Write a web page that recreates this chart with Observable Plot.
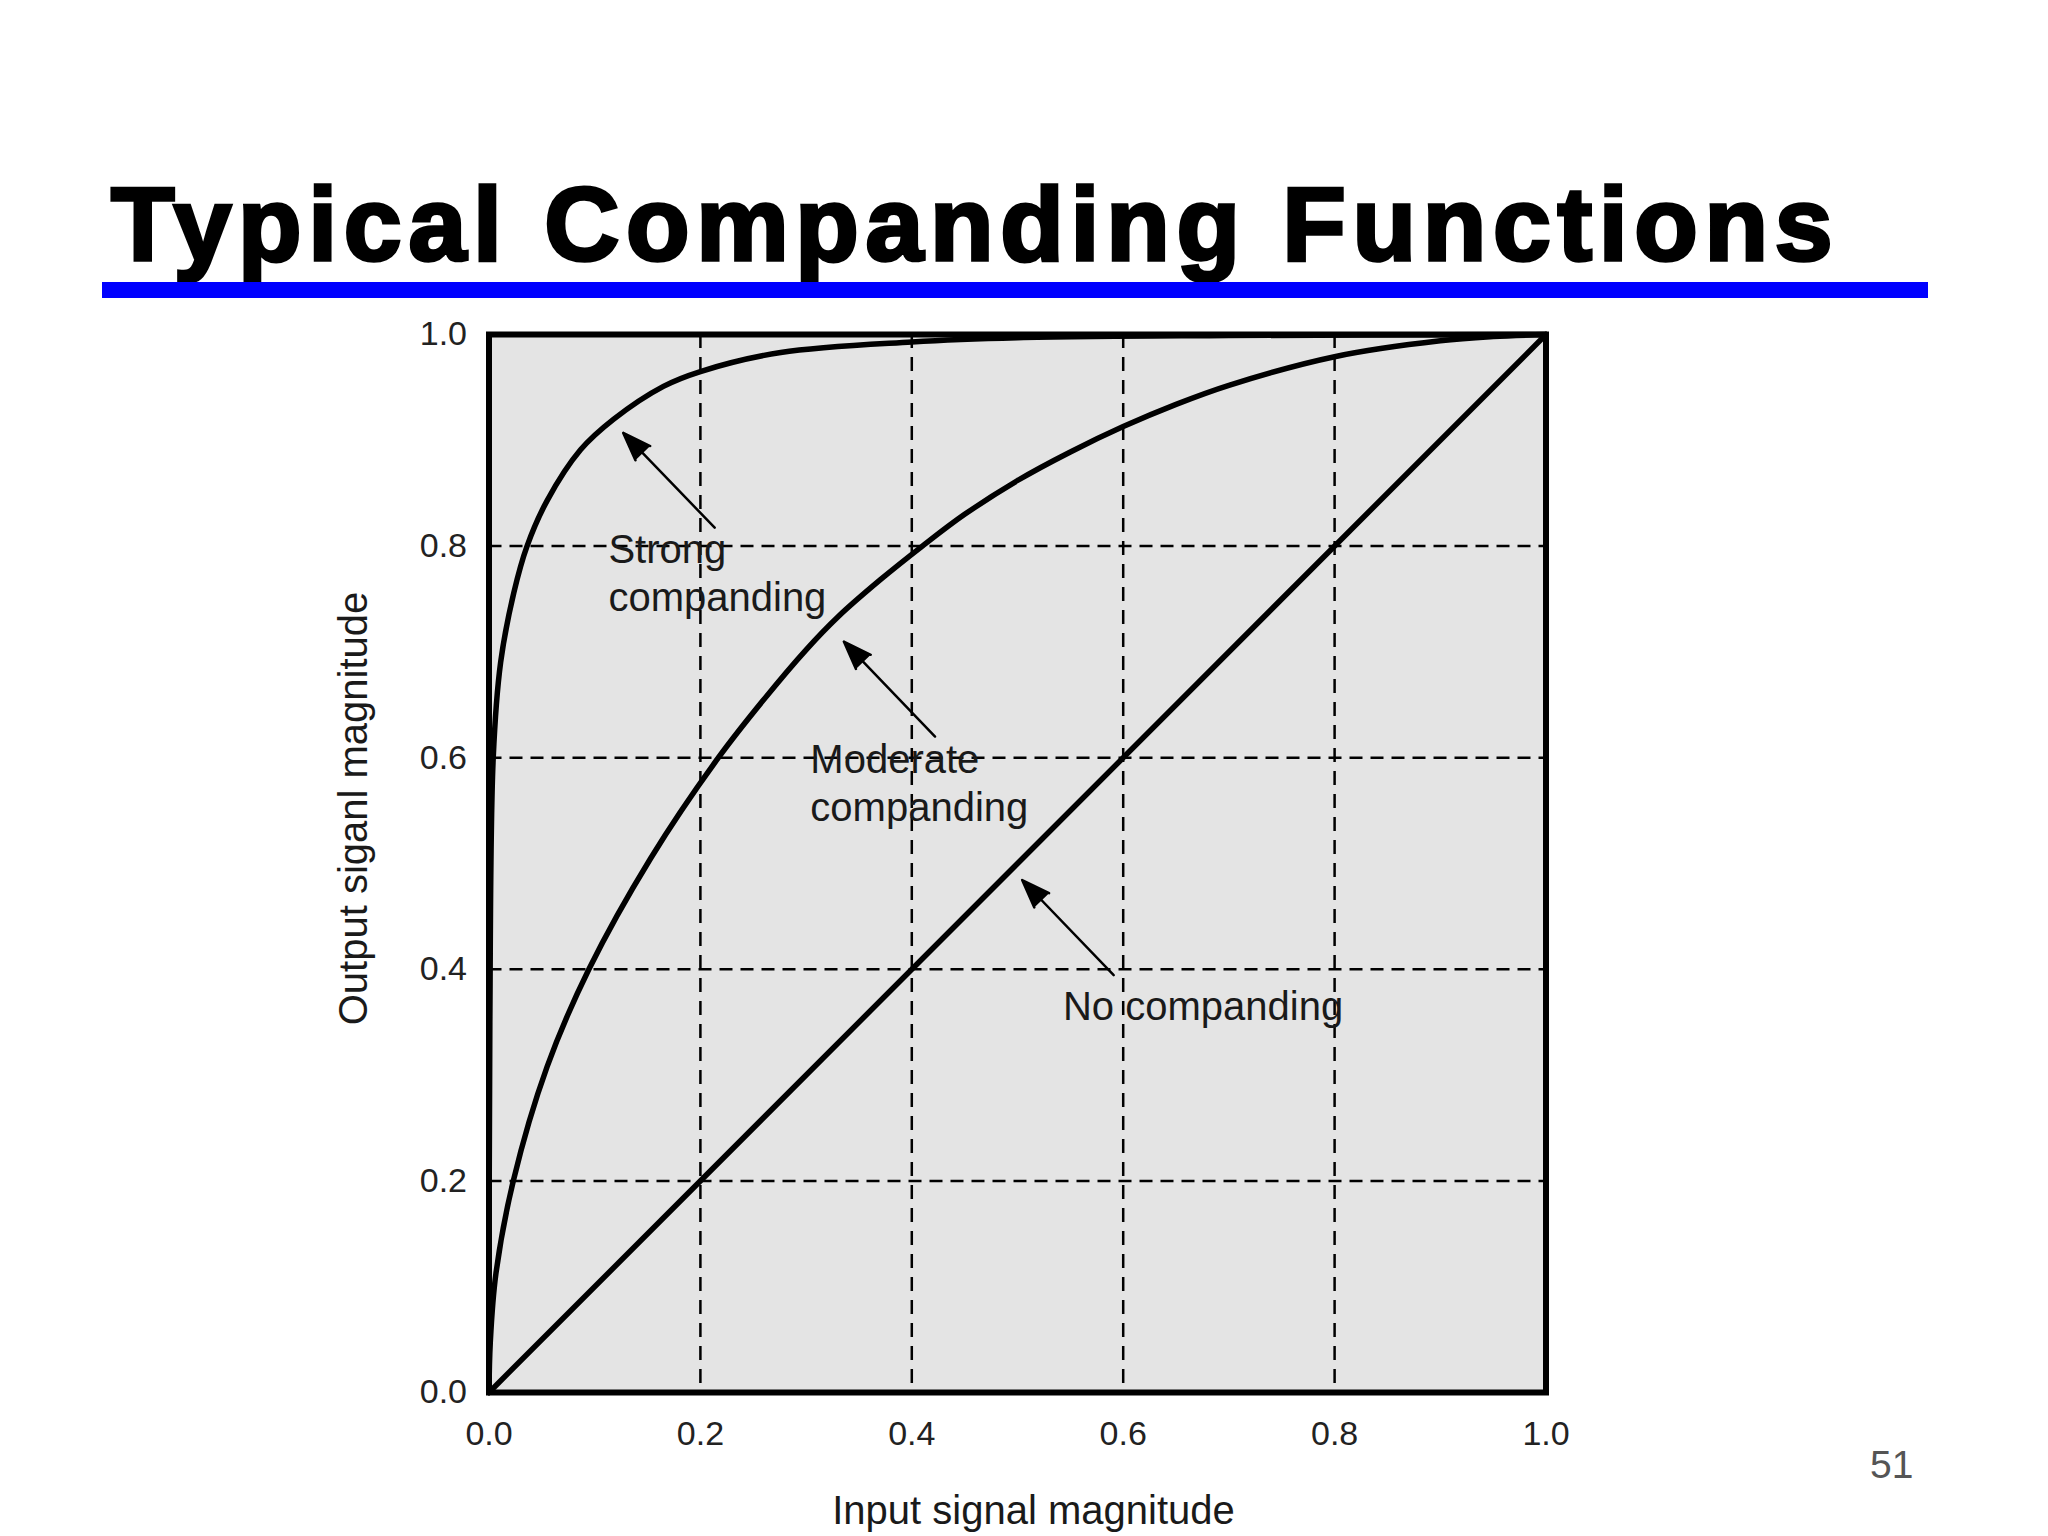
<!DOCTYPE html>
<html>
<head>
<meta charset="utf-8">
<script src="https://cdn.jsdelivr.net/npm/d3@7"></script>
<script src="https://cdn.jsdelivr.net/npm/@observablehq/plot@0.6"></script>
<style>
html, body { margin: 0; padding: 0; background: #fff; }
#page { position: relative; width: 2048px; height: 1536px; overflow: hidden; background: #fff;
  font-family: "Liberation Sans", Arial, Helvetica, sans-serif; }
#title { position: absolute; left: 111px; top: 172px; margin: 0; font-size: 104px; line-height: 1;
  font-weight: bold; color: #000; letter-spacing: 6.7px; -webkit-text-stroke: 3.5px #000; white-space: nowrap; }
#rule { position: absolute; left: 102px; top: 282px; width: 1826px; height: 16px; background: #0000ff; }
#pagenum { position: absolute; left: 1870px; top: 1445px; font-size: 39px; line-height: 1; color: #555; }
#chart { position: absolute; left: 0; top: 305px; }
</style>
</head>
<body>
<div id="page">
  <h1 id="title">Typical Companding Functions</h1>
  <div id="rule"></div>
  <div id="chart"></div>
  <div id="pagenum">51</div>
</div>
<script>
// ---- data ----
const xTicks = [0, 0.2, 0.4, 0.6, 0.8, 1.0];
const yTicks = [0, 0.2, 0.4, 0.6, 0.8, 1.0];
const gridTicks = [0.2, 0.4, 0.6, 0.8];

const xLabel = "Input signal magnitude";
const yLabel = "Output siganl magnitude";

const strongX = [0, 0.0008, 0.004, 0.011, 0.0235, 0.036, 0.055, 0.0866, 0.118, 0.165, 0.2, 0.276, 0.4, 0.5, 0.7, 1.0];
const strongY = [0, 0.35, 0.6, 0.69, 0.756, 0.8, 0.843, 0.891, 0.92, 0.951, 0.965, 0.983, 0.993, 0.997, 0.999, 1.0];

const moderateX = [0, 0.0012, 0.0065, 0.023, 0.055, 0.0945, 0.153, 0.217, 0.26, 0.3, 0.33, 0.37, 0.41, 0.45, 0.5, 0.55, 0.6, 0.65, 0.7, 0.8, 0.9, 0.95, 1.0];
const moderateY = [0, 0.047, 0.112, 0.2, 0.308, 0.4, 0.505, 0.6, 0.655, 0.702, 0.733, 0.768, 0.8, 0.83, 0.862, 0.889, 0.913, 0.934, 0.952, 0.979, 0.994, 0.998, 1.0];

const noX = [0, 1.0];
const noY = [0, 1.0];

const annotationLabels = ["Strong\ncompanding", "Moderate\ncompanding", "No companding"];
const annotationX = [0.113, 0.304, 0.543];
const annotationY = [0.8166, 0.6176, 0.3843];

const arrowTailX = [0.2135, 0.422, 0.591];
const arrowTailY = [0.8174, 0.620, 0.3945];
const arrowTipX = [0.127, 0.3357, 0.5044];
const arrowTipY = [0.907, 0.7098, 0.4844];

// ---- tables built from the arrays ----
const curves = [
  ...strongX.map((x, i) => ({series: "Strong companding", x, y: strongY[i]})),
  ...moderateX.map((x, i) => ({series: "Moderate companding", x, y: moderateY[i]})),
  ...noX.map((x, i) => ({series: "No companding", x, y: noY[i]}))
];
const annotations = annotationLabels.map((label, i) => ({label, x: annotationX[i], y: annotationY[i]}));
const arrows = arrowTailX.map((x1, i) => ({x1, y1: arrowTailY[i], x2: arrowTipX[i], y2: arrowTipY[i]}));

const fmt = d3.format(".1f");

const chart = Plot.plot({
  width: 2048,
  height: 1231,
  marginLeft: 488.5,
  marginRight: 502.5,
  marginTop: 29,
  marginBottom: 144,
  style: {background: "white", fontFamily: "'Liberation Sans', Arial, sans-serif", color: "#1a1a1a", overflow: "visible"},
  x: {domain: [0, 1]},
  y: {domain: [0, 1]},
  marks: [
    Plot.frame({fill: "#e4e4e4", stroke: null}),
    Plot.ruleX(gridTicks, {stroke: "#000", strokeWidth: 2.5, strokeDasharray: "14,9"}),
    Plot.ruleY(gridTicks, {stroke: "#000", strokeWidth: 2.5, strokeDasharray: "13,8"}),
    Plot.line(curves, {x: "x", y: "y", z: "series", curve: "catmull-rom", stroke: "#000", strokeWidth: 5.5, strokeLinejoin: "round"}),
    Plot.arrow(arrows, {x1: "x1", y1: "y1", x2: "x2", y2: "y2", stroke: "#000", fill: "#000", strokeWidth: 2.5, headLength: 18, headAngle: 40}),
    Plot.text(annotations, {x: "x", y: "y", text: "label", textAnchor: "start", lineAnchor: "top", lineHeight: 1.2, fontSize: 40, fill: "#1a1a1a"}),
    Plot.axisX({ticks: xTicks, tickFormat: fmt, tickSize: 0, tickPadding: 28, fontSize: 34, fill: "#222", label: null}),
    Plot.axisY({ticks: yTicks, tickFormat: fmt, tickSize: 0, tickPadding: 22, fontSize: 34, fill: "#222", label: null}),
    Plot.text([xLabel], {frameAnchor: "bottom", textAnchor: "middle", lineAnchor: "bottom", dx: 16, dy: 131, fontSize: 40, fill: "#1a1a1a"}),
    Plot.text([yLabel], {frameAnchor: "left", textAnchor: "middle", rotate: -90, lineAnchor: "bottom", dx: -122.5, dy: -55, fontSize: 40, fill: "#1a1a1a"}),
    Plot.frame({stroke: "#000", strokeWidth: 6})
  ]
});
document.getElementById("chart").appendChild(chart);
</script>
</body>
</html>
